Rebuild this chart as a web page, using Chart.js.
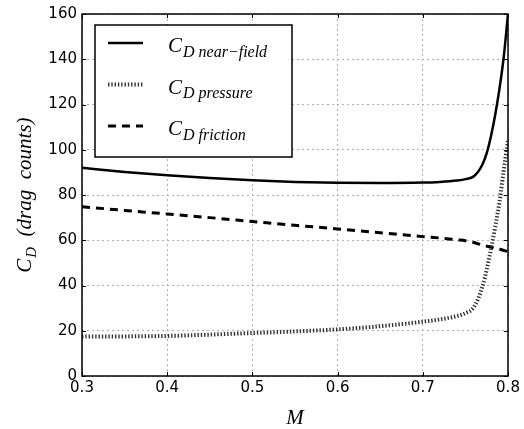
<!DOCTYPE html>
<html>
<head>
<meta charset="utf-8">
<script src="https://cdn.jsdelivr.net/npm/chart.js@4"></script>
<style>
  html, body { margin: 0; padding: 0; background: #fff; }
  #wrap { width: 524px; height: 429px; position: relative; }
</style>
</head>
<body>
<div id="wrap"><canvas id="chart"></canvas></div>
<script>
// Mach numbers and drag coefficients (drag counts)
const machs = [0.3, 0.35, 0.4, 0.45, 0.5, 0.55, 0.6, 0.65, 0.7, 0.72, 0.74, 0.75, 0.76, 0.77, 0.775, 0.78, 0.785, 0.79, 0.795, 0.8];
const nearField = [92, 90.2, 88.7, 87.5, 86.5, 85.8, 85.4, 85.3, 85.5, 85.8, 86.4, 87, 88.3, 93.5, 98.5, 106, 115.5, 127, 141, 160];
const pressure = [17.4, 17.5, 17.7, 18.3, 19, 19.7, 20.6, 22, 24, 25, 26.5, 27.8, 30.5, 39.5, 47, 56, 66, 77, 91, 104];
const friction = [74.8, 73.2, 71.6, 70, 68.3, 66.6, 65, 63.3, 61.6, 61, 60.2, 59.8, 59, 57.8, 57.4, 57, 56.4, 56, 55.5, 55];
const xTicks = [0.3, 0.4, 0.5, 0.6, 0.7, 0.8];
const yTicks = [0, 20, 40, 60, 80, 100, 120, 140, 160];
const seriesNames = ['near\u2212field', 'pressure', 'friction'];

const toPoints = (ys) => machs.map((m, i) => ({ x: m, y: ys[i] }));

const serif = '"Liberation Serif", "DejaVu Serif", serif';

// draw C with subscript, returns end x
function drawCD(ctx, x, y, sub, size, subSize) {
  ctx.font = 'italic ' + size + 'px ' + serif;
  ctx.fillText('C', x, y);
  let w = ctx.measureText('C').width;
  ctx.font = 'italic ' + subSize + 'px ' + serif;
  ctx.fillText(sub, x + w + 1, y + size * 0.22);
  return x + w + 1 + ctx.measureText(sub).width;
}

const decorPlugin = {
  id: 'decor',
  afterDraw(chart) {
    const ctx = chart.ctx;
    const a = chart.chartArea;
    const xs = chart.scales.x, ys = chart.scales.y;
    ctx.save();

    // frame
    ctx.strokeStyle = '#000';
    ctx.lineWidth = 1.5;
    ctx.strokeRect(a.left, a.top, a.right - a.left, a.bottom - a.top);

    // inward ticks
    ctx.lineWidth = 1;
    ctx.beginPath();
    xTicks.forEach(v => {
      const px = Math.round(xs.getPixelForValue(v)) + 0.5;
      ctx.moveTo(px, a.bottom); ctx.lineTo(px, a.bottom - 4);
      ctx.moveTo(px, a.top); ctx.lineTo(px, a.top + 4);
    });
    yTicks.forEach(v => {
      const py = Math.round(ys.getPixelForValue(v)) + 0.5;
      ctx.moveTo(a.left, py); ctx.lineTo(a.left + 4, py);
      ctx.moveTo(a.right, py); ctx.lineTo(a.right - 4, py);
    });
    ctx.stroke();

    // legend
    const lx = a.left + 13, ly = a.top + 11, lw = 197, lh = 132;
    ctx.fillStyle = '#fff';
    ctx.fillRect(lx, ly, lw, lh);
    ctx.strokeStyle = '#000';
    ctx.lineWidth = 1.5;
    ctx.strokeRect(lx, ly, lw, lh);
    chart.data.datasets.forEach((ds, i) => {
      const yy = ly + 18 + i * 41.5;
      ctx.save();
      ctx.strokeStyle = ds.borderColor;
      ctx.lineWidth = ds.borderWidth;
      ctx.setLineDash(ds.borderDash || []);
      ctx.beginPath();
      ctx.moveTo(lx + 13, yy);
      ctx.lineTo(lx + 48, yy);
      ctx.stroke();
      ctx.restore();
      ctx.fillStyle = '#000';
      ctx.textBaseline = 'alphabetic';
      ctx.textAlign = 'left';
      drawCD(ctx, lx + 73, yy + 9, 'D ' + seriesNames[i], 21, 16);
    });

    // x axis title
    ctx.fillStyle = '#000';
    ctx.font = 'italic 21px ' + serif;
    ctx.textAlign = 'center';
    ctx.textBaseline = 'alphabetic';
    ctx.fillText('M', (a.left + a.right) / 2, 424);

    // y axis title
    ctx.save();
    ctx.translate(31, (a.top + a.bottom) / 2);
    ctx.rotate(-Math.PI / 2);
    ctx.textAlign = 'left';
    ctx.font = 'italic 21px ' + serif;
    const rest = '  (drag  counts)';
    const tw = ctx.measureText('C').width + 12 + ctx.measureText(rest).width;
    const start = -tw / 2;
    const end = drawCD(ctx, start, 0, 'D', 21, 15);
    ctx.font = 'italic 21px ' + serif;
    ctx.fillText(rest, end, 0);
    ctx.restore();

    ctx.restore();
  }
};

new Chart(document.getElementById('chart'), {
  type: 'line',
  data: {
    datasets: [
      {
        label: seriesNames[0],
        data: toPoints(nearField),
        borderColor: '#000',
        borderWidth: 2.5,
        pointRadius: 0,
        cubicInterpolationMode: 'monotone'
      },
      {
        label: seriesNames[1],
        data: toPoints(pressure),
        borderColor: '#333',
        borderWidth: 4,
        borderDash: [1.4, 1.9],
        borderCapStyle: 'butt',
        pointRadius: 0,
        cubicInterpolationMode: 'monotone'
      },
      {
        label: seriesNames[2],
        data: toPoints(friction),
        borderColor: '#000',
        borderWidth: 3,
        borderDash: [8, 6],
        pointRadius: 0,
        cubicInterpolationMode: 'monotone'
      }
    ]
  },
  options: {
    responsive: true,
    maintainAspectRatio: false,
    animation: false,
    layout: { padding: { top: 14, right: 16, left: 0, bottom: 0 } },
    plugins: {
      legend: { display: false },
      tooltip: { enabled: false }
    },
    scales: {
      x: {
        type: 'linear',
        min: 0.3,
        max: 0.8,
        afterFit: (s) => { s.height = 53; },
        afterBuildTicks: (s) => { s.ticks = xTicks.map(v => ({ value: v })); },
        grid: { color: '#b0b0b0', lineWidth: 1, drawTicks: false },
        border: { display: false, dash: [2, 3] },
        ticks: {
          color: '#000',
          padding: 3,
          font: { family: '"DejaVu Sans"', size: 15 },
          callback: (v) => v.toFixed(1)
        }
      },
      y: {
        min: 0,
        max: 160,
        afterFit: (s) => { s.width = 82; },
        afterBuildTicks: (s) => { s.ticks = yTicks.map(v => ({ value: v })); },
        grid: { color: '#b0b0b0', lineWidth: 1, drawTicks: false },
        border: { display: false, dash: [2, 3] },
        ticks: {
          color: '#000',
          padding: 5,
          font: { family: '"DejaVu Sans"', size: 15 }
        }
      }
    }
  },
  plugins: [decorPlugin]
});
</script>
</body>
</html>
